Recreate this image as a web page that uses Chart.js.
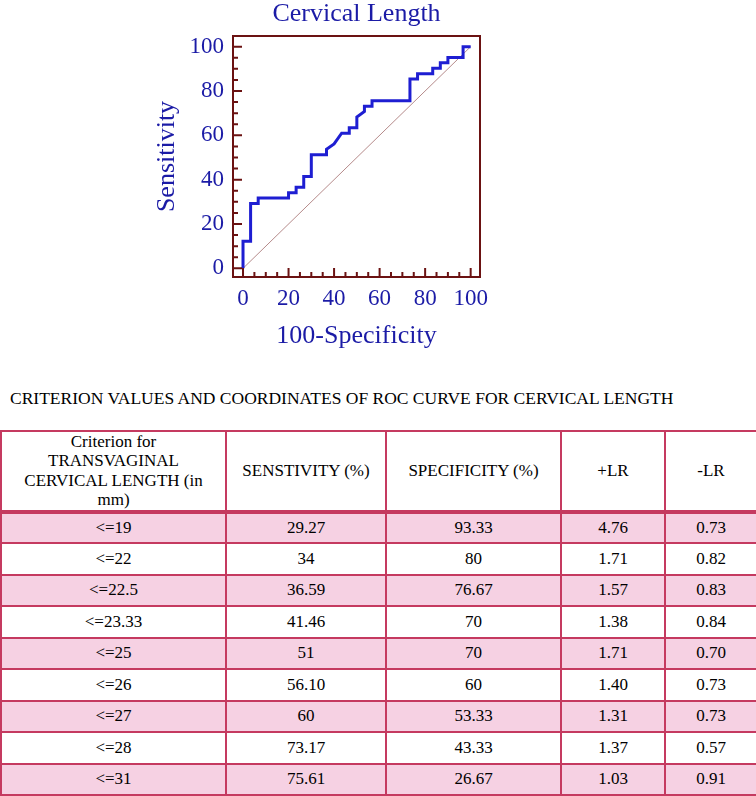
<!DOCTYPE html>
<html>
<head>
<meta charset="utf-8">
<script src="https://cdn.jsdelivr.net/npm/chart.js@4.4.1/dist/chart.umd.min.js"></script>
<style>
  html, body { margin: 0; padding: 0; background: #fff; }
  body { width: 756px; height: 796px; position: relative; overflow: hidden; font-family: "Liberation Serif", "Times New Roman", serif; }
  #chartBox { position: absolute; left: 0; top: 0; width: 756px; height: 360px; }
  #caption { position: absolute; left: 10px; top: 390px; font-size: 17.5px; line-height: 17.5px; color: #000; white-space: nowrap; }
  #rocTable { position: absolute; left: 0; top: 430px; width: 756px; border-collapse: collapse; table-layout: fixed; font-size: 17px; color: #000; }
  #rocTable th, #rocTable td { border: 2px solid #c53a60; text-align: center; font-weight: normal; padding: 0 4px; }
  #rocTable thead tr { height: 78px; }
  #rocTable thead th { line-height: 19.4px; border-bottom: 4px solid #c53a60; }
  #rocTable tbody tr { height: 31.5px; }
  #rocTable tbody tr:nth-child(odd) td { background: #f6d1e3; }
</style>
</head>
<body>
<div id="chartBox"><canvas id="rocChart"></canvas></div>
<div id="caption">CRITERION VALUES AND COORDINATES OF ROC CURVE FOR CERVICAL LENGTH</div>
<table id="rocTable">
  <colgroup><col style="width:225px"><col style="width:160px"><col style="width:175px"><col style="width:104px"><col style="width:92px"></colgroup>
  <thead><tr id="headRow"></tr></thead>
  <tbody id="bodyRows"></tbody>
</table>
<script>
// ROC curve (100-specificity vs sensitivity)
const rocX = [0, 0, 3.33, 3.33, 6.67, 6.67, 20, 20, 23.33, 23.33, 26.67, 26.67, 30, 30, 36.67, 36.67, 40, 43.33,
  46.67, 46.67, 50, 50, 53.33, 53.33, 56.67, 56.67, 73.33, 73.33, 76.67, 76.67, 83.33, 83.33, 86.67, 86.67, 90, 90,
  96.67, 96.67, 100];
const rocY = [0, 12.2, 12.2, 29.27, 29.27, 31.71, 31.71, 34.15, 34.15, 36.59, 36.59, 41.46, 41.46, 51.22, 51.22, 53.66, 56.1, 60.98,
  60.98, 63.41, 63.41, 68.29, 70.73, 73.17, 73.17, 75.61, 75.61, 85.37, 85.37, 87.8, 87.8, 90.24, 90.24, 92.68, 92.68, 95.12,
  95.12, 100, 100];
// reference diagonal
const diagX = [0, 100];
const diagY = [0, 100];

const xTicks = [0, 20, 40, 60, 80, 100];
const yTicks = [0, 20, 40, 60, 80, 100];

// table
const headers = ['Criterion for<br>TRANSVAGINAL<br>CERVICAL LENGTH (in<br>mm)', 'SENSTIVITY (%)', 'SPECIFICITY (%)', '+LR', '-LR'];
const criteria = ['<=19', '<=22', '<=22.5', '<=23.33', '<=25', '<=26', '<=27', '<=28', '<=31'];
const sensitivity = ['29.27', '34', '36.59', '41.46', '51', '56.10', '60', '73.17', '75.61'];
const specificity = ['93.33', '80', '76.67', '70', '70', '60', '53.33', '43.33', '26.67'];
const plusLR = ['4.76', '1.71', '1.57', '1.38', '1.71', '1.40', '1.31', '1.37', '1.03'];
const minusLR = ['0.73', '0.82', '0.83', '0.84', '0.70', '0.73', '0.73', '0.57', '0.91'];

const TEXT_BLUE = '#1b1ba6';
const LINE_BLUE = '#1e1ed2';
const FRAME = '#6b1212';
const SERIF = "'Liberation Serif', 'Times New Roman', serif";

// table rows
document.getElementById('headRow').innerHTML = headers.map(h => '<th>' + h + '</th>').join('');
const esc = s => s.replace(/</g, '&lt;');
document.getElementById('bodyRows').innerHTML = criteria.map((c, i) =>
  '<tr><td>' + esc(c) + '</td><td>' + sensitivity[i] + '</td><td>' + specificity[i] + '</td><td>' +
  plusLR[i] + '</td><td>' + minusLR[i] + '</td></tr>').join('');

// frame + inward tick marks (major every 20, minor every 5)
const frameTicks = {
  id: 'frameTicks',
  afterDatasetsDraw(chart) {
    const { ctx, chartArea: a, scales: { x, y } } = chart;
    ctx.save();
    ctx.strokeStyle = FRAME;
    ctx.lineWidth = 2;
    ctx.beginPath();
    for (let v = 0; v <= 100; v += 5) {
      const len = v % 20 === 0 ? 9 : 5;
      const px = x.getPixelForValue(v);
      ctx.moveTo(px, a.bottom);
      ctx.lineTo(px, a.bottom - len);
      const py = y.getPixelForValue(v);
      ctx.moveTo(a.left, py);
      ctx.lineTo(a.left + len, py);
    }
    ctx.stroke();
    ctx.strokeRect(a.left, a.top, a.right - a.left, a.bottom - a.top);
    ctx.restore();
  }
};

new Chart(document.getElementById('rocChart'), {
  type: 'scatter',
  data: {
    datasets: [
      {
        data: rocX.map((v, i) => ({ x: v, y: rocY[i] })),
        showLine: true,
        borderColor: LINE_BLUE,
        borderWidth: 3,
        pointRadius: 0,
        tension: 0
      },
      {
        data: diagX.map((v, i) => ({ x: v, y: diagY[i] })),
        showLine: true,
        borderColor: '#b58a8a',
        borderWidth: 1,
        pointRadius: 0
      }
    ]
  },
  options: {
    responsive: true,
    maintainAspectRatio: false,
    animation: false,
    layout: { padding: { left: 140, right: 276, top: 0, bottom: 3 } },
    plugins: {
      legend: { display: false },
      tooltip: { enabled: false },
      title: {
        display: true,
        text: 'Cervical Length',
        color: TEXT_BLUE,
        fullSize: false,
        font: { family: SERIF, size: 26, weight: 'normal', lineHeight: 1.1 },
        padding: { top: 0, bottom: 7.4 }
      }
    },
    scales: {
      x: {
        type: 'linear',
        min: -4.4,
        max: 104.1,
        afterBuildTicks: s => { s.ticks = xTicks.map(v => ({ value: v })); },
        afterFit: s => { s.height = 80; },
        grid: { display: false, drawTicks: false },
        border: { display: false },
        ticks: { color: TEXT_BLUE, padding: 8, font: { family: SERIF, size: 23 } },
        title: {
          display: true,
          text: '100-Specificity',
          color: TEXT_BLUE,
          font: { family: SERIF, size: 26 },
          padding: { top: 0, bottom: 5.4 }
        }
      },
      y: {
        type: 'linear',
        min: -3.9,
        max: 104.8,
        afterBuildTicks: s => { s.ticks = yTicks.map(v => ({ value: v })); },
        afterFit: s => { s.width = 93; },
        grid: { display: false, drawTicks: false },
        border: { display: false },
        ticks: { color: TEXT_BLUE, padding: 9, font: { family: SERIF, size: 23 } },
        title: {
          display: true,
          text: 'Sensitivity',
          color: TEXT_BLUE,
          font: { family: SERIF, size: 26 },
          padding: { top: 12, bottom: 0 }
        }
      }
    }
  },
  plugins: [frameTicks]
});
</script>
</body>
</html>
